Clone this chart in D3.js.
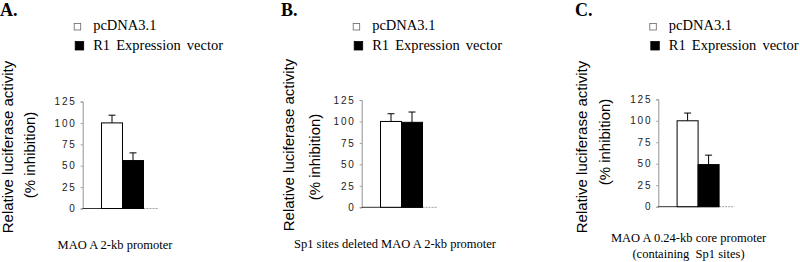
<!DOCTYPE html>
<html>
<head>
<meta charset="utf-8">
<script src="https://cdn.jsdelivr.net/npm/d3@7"></script>
<style>
  body { margin: 0; background: #fff; }
  svg { display: block; }
  .tick text { font-family: "Liberation Sans", Arial, sans-serif; font-size: 10px; letter-spacing: 1.8px; fill: #222; }
</style>
</head>
<body>
<div id="chart"></div>
<script>
// Data
const panelLetters = ["A.", "B.", "C."];
const seriesNames = ["pcDNA3.1", "R1 Expression vector"];
const conditionLabels = [
    ["MAO A 2-kb promoter"],
    ["Sp1 sites deleted MAO A 2-kb promoter"],
    ["MAO A 0.24-kb core promoter", "(containing  Sp1 sites)"]
];
const meansA = [100, 56], errA = [9, 9];
const meansB = [100, 99], errB = [9, 12];
const meansC = [100, 49], errC = [9, 11];
const yTicks = [0, 25, 50, 75, 100, 125];

const allMeans = [meansA, meansB, meansC];
const allErr = [errA, errB, errC];

// Layout per panel
const layout = [
    { letterX: 0, axisX: 82.7, y0: 208.5, y125: 101.5, t1x: 12.5, t1y: 147, t2x: 35, t2y: 155, labelX: 115, labelY: [249] },
    { letterX: 281, axisX: 361.7, y0: 207.3, y125: 100, t1x: 293.5, t1y: 145, t2x: 320, t2y: 157, labelX: 395, labelY: [248] },
    { letterX: 575, axisX: 658.3, y0: 206.7, y125: 99.3, t1x: 587, t1y: 147, t2x: 610, t2y: 142, labelX: 688.5, labelY: [242, 258] }
];

const svg = d3.select("#chart").append("svg")
    .attr("width", 800)
    .attr("height", 262);

const serif = "'Liberation Serif', 'Times New Roman', serif";
const sans = "'Liberation Sans', Arial, sans-serif";
const fills = ["#fff", "#000"];

layout.forEach((L, p) => {
    const g = svg.append("g");
    const means = allMeans[p], errs = allErr[p];

    // Panel letter
    g.append("text")
        .attr("x", L.letterX)
        .attr("y", 15.5)
        .attr("font-family", serif)
        .attr("font-weight", "bold")
        .attr("font-size", 18)
        .text(panelLetters[p]);

    // Legend
    seriesNames.forEach((name, i) => {
        const ly = 21 + i * 20;
        const s = i === 0 ? 6.5 : 8.5;
        g.append("rect")
            .attr("x", L.axisX - (i === 0 ? 8.5 : 7.5))
            .attr("y", i === 0 ? 23.5 : 41.5)
            .attr("width", s)
            .attr("height", s)
            .attr("fill", fills[i])
            .attr("stroke", i === 0 ? "#666" : "#000")
            .attr("stroke-width", 0.8);
        g.append("text")
            .attr("x", L.axisX + 10.5)
            .attr("y", ly + 8.5)
            .attr("font-family", serif)
            .attr("font-size", 14.5)
            .attr("word-spacing", 2.5)
            .text(name);
    });

    // Scales
    const x = d3.scaleBand()
        .domain(seriesNames)
        .range([L.axisX + 18.8, L.axisX + 60.8])
        .padding(0);
    const y = d3.scaleLinear()
        .domain([0, 125])
        .range([L.y0, L.y125]);

    // Y axis
    const yAxis = g.append("g")
        .attr("transform", `translate(${L.axisX},0)`)
        .call(d3.axisLeft(y).tickValues(yTicks).tickSize(2).tickPadding(4));
    yAxis.select(".domain").attr("stroke", "#777").attr("stroke-width", 0.8);
    yAxis.selectAll(".tick line").attr("stroke", "#999");

    // X axis line
    g.append("line")
        .attr("x1", L.axisX)
        .attr("x2", L.axisX + 60.8)
        .attr("y1", L.y0)
        .attr("y2", L.y0)
        .attr("stroke", "#333")
        .attr("stroke-width", 1);
    g.append("line")
        .attr("x1", L.axisX + 60.8)
        .attr("x2", L.axisX + 76)
        .attr("y1", L.y0)
        .attr("y2", L.y0)
        .attr("stroke", "#888")
        .attr("stroke-width", 0.8)
        .attr("stroke-dasharray", "2,1");

    // Error bars
    seriesNames.forEach((name, i) => {
        const cx = x(name) + x.bandwidth() / 2;
        g.append("line")
            .attr("x1", cx).attr("x2", cx)
            .attr("y1", y(means[i])).attr("y2", y(means[i] + errs[i]))
            .attr("stroke", "#000").attr("stroke-width", 1);
        g.append("line")
            .attr("x1", cx - 3.5).attr("x2", cx + 3.5)
            .attr("y1", y(means[i] + errs[i])).attr("y2", y(means[i] + errs[i]))
            .attr("stroke", "#000").attr("stroke-width", 1);
    });

    // Bars
    g.selectAll("rect.bar")
        .data(means)
        .join("rect")
        .attr("class", "bar")
        .attr("x", (d, i) => x(seriesNames[i]))
        .attr("y", d => y(d))
        .attr("width", x.bandwidth())
        .attr("height", d => L.y0 - y(d))
        .attr("fill", (d, i) => fills[i])
        .attr("stroke", "#000")
        .attr("stroke-width", 1);

    // Y titles
    g.append("text")
        .attr("transform", `translate(${L.t1x},${L.t1y}) rotate(-90)`)
        .attr("text-anchor", "middle")
        .attr("font-family", sans)
        .attr("font-size", 15)
        .text("Relative luciferase activity");
    g.append("text")
        .attr("transform", `translate(${L.t2x},${L.t2y}) rotate(-90)`)
        .attr("text-anchor", "middle")
        .attr("font-family", sans)
        .attr("font-size", 15)
        .text("(% inhibition)");

    // Condition label
    conditionLabels[p].forEach((line, k) => {
        g.append("text")
            .attr("x", L.labelX)
            .attr("y", L.labelY[k])
            .attr("text-anchor", "middle")
            .attr("font-family", serif)
            .attr("font-size", 12.5)
            .style("white-space", "pre")
            .text(line);
    });
});
</script>
</body>
</html>
